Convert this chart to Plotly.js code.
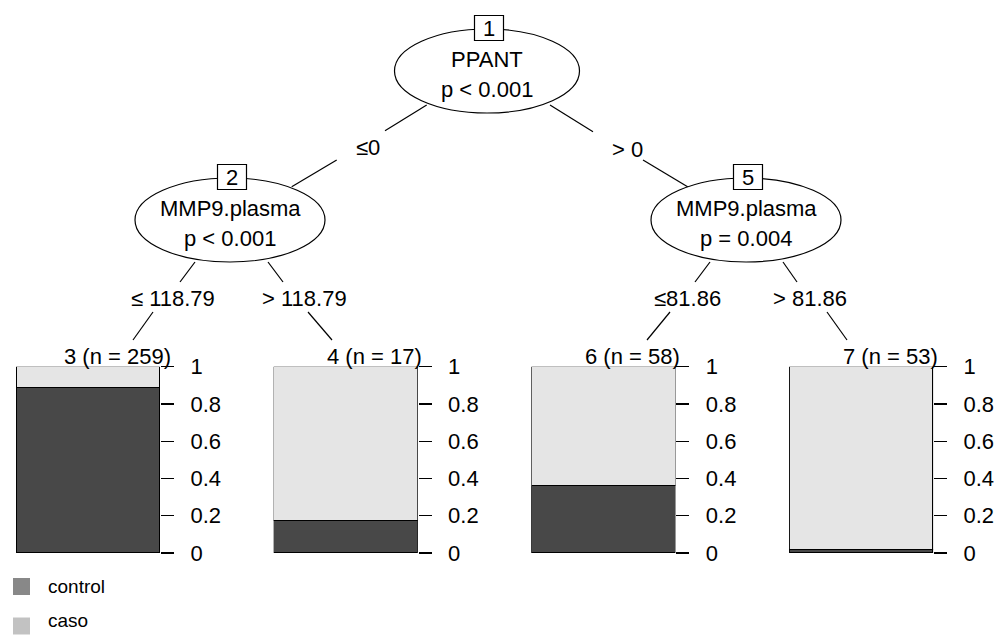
<!DOCTYPE html>
<html>
<head>
<meta charset="utf-8">
<script src="https://cdn.plot.ly/plotly-3.0.1.min.js"></script>
<style>html,body{margin:0;padding:0;background:#fff;}#chart{width:997px;height:635px;}</style>
</head>
<body>
<div id="chart"></div>
<script>
// ---- data ----
const terminalIds = [3, 4, 6, 7];
const terminalN = [259, 17, 58, 53];
const controlProp = [0.888, 0.176, 0.362, 0.019];
const casoProp = [0.112, 0.824, 0.638, 0.981];
const classNames = ['control', 'caso'];
const tickVals = [0, 0.2, 0.4, 0.6, 0.8, 1];
const tickText = ['0', '0.2', '0.4', '0.6', '0.8', '1'];
const innerIds = [1, 2, 5];
const innerVars = ['PPANT', 'MMP9.plasma', 'MMP9.plasma'];
const innerPvals = ['p < 0.001', 'p < 0.001', 'p = 0.004'];
const splitLabels = ['\u22640', '> 0', '\u2264 118.79', '> 118.79', '\u226481.86', '> 81.86'];

// ---- styling / layout helpers ----
const W = 997, H = 635;
const X = px => px / W;
const Y = py => 1 - py / H;
const FONT = 'Liberation Sans, Arial, sans-serif';
const FS = 22;
const darkCol = '#484848', lightCol = '#e5e5e5';
const legendCols = ['#888888', '#c2c2c2'];

const barW = 144, barStep = 257.7, barLeft0 = 16;
const barTop = 366.7, barBottom = 553;

const traces = [];
const layout = {
  width: W, height: H,
  margin: {l: 0, r: 0, t: 0, b: 0},
  paper_bgcolor: '#fff', plot_bgcolor: 'rgba(0,0,0,0)',
  barmode: 'stack', bargap: 0,
  showlegend: false,
  font: {family: FONT, size: FS, color: '#000'},
  shapes: [], annotations: []
};

terminalIds.forEach((id, i) => {
  const xa = i === 0 ? 'x' : 'x' + (i + 1);
  const ya = i === 0 ? 'y' : 'y' + (i + 1);
  const left = barLeft0 + i * barStep;
  traces.push({
    type: 'bar', x: [0], y: [controlProp[i]], width: [1], name: classNames[0],
    xaxis: xa, yaxis: ya, marker: {color: darkCol, line: {color: '#000', width: 1.2}},
    hoverinfo: 'skip'
  });
  traces.push({
    type: 'bar', x: [0], y: [casoProp[i]], width: [1], name: classNames[1],
    xaxis: xa, yaxis: ya, marker: {color: lightCol, line: {color: '#000', width: 1.2}},
    hoverinfo: 'skip'
  });
  const xk = i === 0 ? 'xaxis' : 'xaxis' + (i + 1);
  const yk = i === 0 ? 'yaxis' : 'yaxis' + (i + 1);
  layout[xk] = {
    domain: [X(left), X(left + barW)], range: [-0.5, 0.5], anchor: ya,
    showticklabels: false, showgrid: false, zeroline: false, showline: false, ticks: '', fixedrange: true
  };
  layout[yk] = {
    domain: [Y(barBottom), Y(barTop)], range: [0, 1], anchor: xa, side: 'right',
    tickvals: tickVals, ticktext: tickText, ticks: 'outside', ticklen: 13, tickwidth: 1.2, tickcolor: '#000',
    ticklabelstandoff: 12,
    showgrid: false, zeroline: false, showline: false, fixedrange: true,
    tickfont: {family: FONT, size: FS, color: '#000'}
  };
  layout.annotations.push({
    xref: 'paper', yref: 'paper', x: X(left + barW / 2 + 29), y: Y(356),
    xanchor: 'center', yanchor: 'middle', showarrow: false,
    text: id + ' (n = ' + terminalN[i] + ')', font: {family: FONT, size: FS, color: '#000'}
  });
});

// ---- tree (inner nodes) ----
const nodeGeom = [
  {cx: 487, cy: 71, rx: 92.5, ry: 42},
  {cx: 230, cy: 220, rx: 95, ry: 42},
  {cx: 746, cy: 220, rx: 95, ry: 42}
];
const line = (x0, y0, x1, y1) => ({type: 'line', xref: 'paper', yref: 'paper',
  x0: X(x0), y0: Y(y0), x1: X(x1), y1: Y(y1), line: {color: '#000', width: 1.2}});
// edges (two segments each, broken by the split label)
const edges = [
  [426.7, 105, 385, 130.7, 336.7, 160, 291.7, 186.7],
  [550, 105, 593, 131.7, 643, 160, 688, 187],
  [195, 262, 180, 282, 153, 312, 133, 340],
  [268, 262, 283, 282, 308, 312, 332, 340],
  [710, 262, 695, 282, 670, 312, 647, 340],
  [783, 262, 797, 282, 827, 312, 847, 340]
];
const splitPos = [[368, 148], [627, 149], [173, 298], [304, 298], [687, 298], [810, 298]];
edges.forEach((e, k) => {
  layout.shapes.push(line(e[0], e[1], e[2], e[3]));
  layout.shapes.push(line(e[4], e[5], e[6], e[7]));
  layout.annotations.push({
    xref: 'paper', yref: 'paper', x: X(splitPos[k][0]), y: Y(splitPos[k][1]),
    xanchor: 'center', yanchor: 'middle', showarrow: false,
    text: splitLabels[k], font: {family: FONT, size: FS, color: '#000'}
  });
});
nodeGeom.forEach((g, k) => {
  layout.shapes.push({type: 'circle', xref: 'paper', yref: 'paper',
    x0: X(g.cx - g.rx), x1: X(g.cx + g.rx), y0: Y(g.cy + g.ry), y1: Y(g.cy - g.ry),
    fillcolor: '#fff', line: {color: '#000', width: 1.2}});
  const bx = g.cx + 2, by = g.cy - g.ry - 1;
  layout.shapes.push({type: 'rect', xref: 'paper', yref: 'paper',
    x0: X(bx - 14.5), x1: X(bx + 14.5), y0: Y(by + 12.5), y1: Y(by - 12.5),
    fillcolor: '#fff', line: {color: '#000', width: 1.2}});
  layout.annotations.push({xref: 'paper', yref: 'paper', x: X(bx), y: Y(by),
    xanchor: 'center', yanchor: 'middle', showarrow: false, text: String(innerIds[k]),
    font: {family: FONT, size: FS, color: '#000'}});
  layout.annotations.push({xref: 'paper', yref: 'paper', x: X(g.cx), y: Y(g.cy - 12),
    xanchor: 'center', yanchor: 'middle', showarrow: false, text: innerVars[k],
    font: {family: FONT, size: FS, color: '#000'}});
  layout.annotations.push({xref: 'paper', yref: 'paper', x: X(g.cx), y: Y(g.cy + 18),
    xanchor: 'center', yanchor: 'middle', showarrow: false, text: innerPvals[k],
    font: {family: FONT, size: FS, color: '#000'}});
});

// ---- legend (drawn) ----
const legSqY = [586.5, 626];
const legTxtY = [586.5, 620];
classNames.forEach((nm, k) => {
  layout.shapes.push({type: 'rect', xref: 'paper', yref: 'paper',
    x0: X(13), x1: X(30), y0: Y(legSqY[k] + 8.5), y1: Y(legSqY[k] - 8.5),
    fillcolor: legendCols[k], line: {width: 0}});
  layout.annotations.push({xref: 'paper', yref: 'paper', x: X(47), y: Y(legTxtY[k]),
    xanchor: 'left', yanchor: 'middle', showarrow: false, text: nm, borderpad: 0,
    font: {family: FONT, size: 19, color: '#000'}});
});

Plotly.newPlot('chart', traces, layout, {displayModeBar: false, staticPlot: true});
</script>
</body>
</html>
